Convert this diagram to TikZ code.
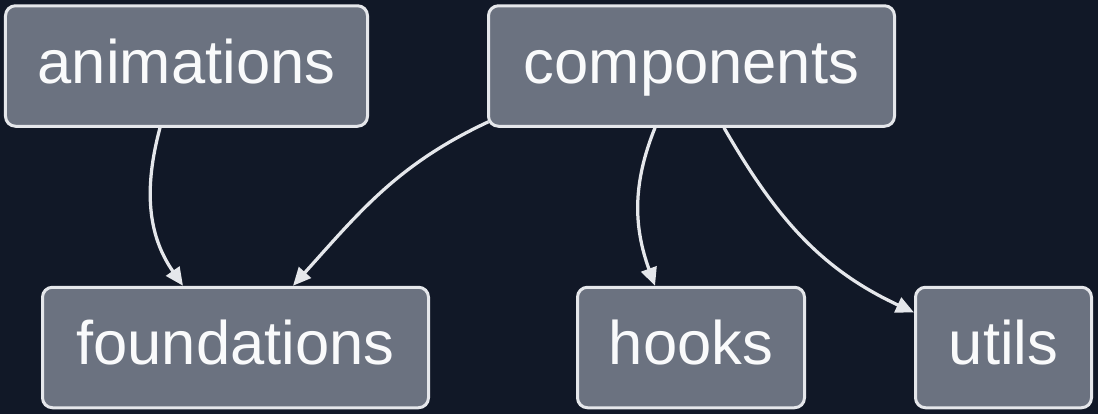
\documentclass[tikz,border=0pt]{standalone}
\usepackage{fontspec}
\setmainfont{Liberation Sans}
\usetikzlibrary{arrows.meta, positioning}
\definecolor{graphbg}{HTML}{111827}
\definecolor{boxfill}{HTML}{6B7280}
\definecolor{boxline}{HTML}{E5E7EB}
\definecolor{boxtext}{HTML}{F9FAFB}
\begin{document}
\begin{tikzpicture}[
		texts/.style = {text=boxtext, font=\fontsize{35}{42}\selectfont, text height=0.93cm, text depth=0.25cm},
		pkgnode/.style = {texts, rectangle, rounded corners=0.2cm, fill=boxfill, draw=boxline, line width=0.06cm, inner sep=0pt, minimum height=2.41cm},
		deparrow/.style = {draw=boxline, line width=0.065cm, -{Triangle[length=0.36cm, width=0.32cm]}}
		]
		\fill[graphbg] (0,0) rectangle (21.96,-8.28);
		\useasboundingbox (0,0) rectangle (21.96,-8.28);
		
		\node[pkgnode, minimum width=7.24cm] (animations) at (3.73,-1.32) {animations};
		\node[pkgnode, minimum width=8.12cm] (components) at (13.83,-1.32) {components};
		\node[pkgnode, minimum width=7.72cm] (foundations) at (4.71,-6.95) {foundations};
		\node[pkgnode, minimum width=4.54cm] (hooks) at (13.82,-6.95) {hooks};
		\node[pkgnode, minimum width=3.52cm] (utils) at (20.07,-6.95) {utils};
		
		%\draw (animations) -- (foundations);
		\draw[deparrow] ([xshift=-0.53cm]animations.south) to[out=-105, in=125] ([xshift=-1.05cm]foundations.north);
		\draw[deparrow] ([xshift=0.03cm, yshift=0.12cm]components.south west) to[out=205, in=48] ([xshift=1.15cm]foundations.north);
		\draw[deparrow] ([xshift=-0.73cm]components.south) to[out=-112, in=110] ([xshift=-0.72cm]hooks.north);
		\draw[deparrow] ([xshift=0.65cm]components.south) to[out=-60, in=155] ([yshift=0.7cm]utils.west);
\end{tikzpicture}
\end{document}
